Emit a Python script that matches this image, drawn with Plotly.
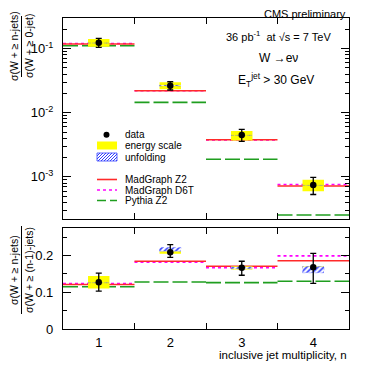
import plotly.graph_objects as go
import numpy as np

FONT = "Liberation Sans, Arial, sans-serif"

# ---------------- data ----------------
n_jets = [1, 2, 3, 4]
tick_labels = ["1", "2", "3", "4"]

# top panel: sigma(W + >= n jets) / sigma(W + >= 0 jets)
top_data = [0.1235, 0.0264, 0.00449, 0.000745]
top_err_hi = [0.1446, 0.0304, 0.00551, 0.00098]
top_err_lo = [0.1047, 0.0226, 0.00357, 0.00053]
top_escale_hi = [0.1408, 0.0298, 0.0052, 0.00090]
top_escale_lo = [0.1070, 0.0233, 0.0037, 0.000595]
top_unf_hi = [0.1250, 0.0268, 0.00455, 0.000755]
top_unf_lo = [0.1220, 0.0260, 0.00443, 0.000735]
top_mg_z2 = [0.118, 0.0220, 0.00379, 0.00072]
top_mg_d6t = [0.120, 0.0220, 0.00375, 0.00076]
top_py_z2 = [0.111, 0.0145, 0.00188, 0.000254]

# bottom panel: sigma(W + >= n jets) / sigma(W + >= (n-1) jets)
bot_data = [0.127, 0.209, 0.1665, 0.168]
bot_err_hi = [0.152, 0.230, 0.1845, 0.206]
bot_err_lo = [0.103, 0.195, 0.1463, 0.124]
bot_escale_hi = [0.144, 0.212, 0.171, 0.171]
bot_escale_lo = [0.110, 0.205, 0.162, 0.165]
bot_unf_hi = [0.128, 0.222, 0.169, 0.170]
bot_unf_lo = [0.126, 0.212, 0.164, 0.153]
bot_mg_z2 = [0.121, 0.1845, 0.171, 0.186]
bot_mg_d6t = [0.124, 0.182, 0.167, 0.199]
bot_py_z2 = [0.115, 0.128, 0.1264, 0.130]

BOX_HALF = 0.15
C_RED = "#ff2a2a"
C_MAG = "#ff00ff"
C_GRN = "#1f9e1f"
C_YEL = "#ffff00"
C_BLUE = "#3340ff"


def step(vals):
    xs, ys = [], []
    for n, v in zip(n_jets, vals):
        xs += [n - 0.5, n + 0.5, None]
        ys += [v, v, None]
    return xs, ys


def boxes(lo, hi):
    xs, ys = [], []
    for n, a, b in zip(n_jets, lo, hi):
        xs += [n - BOX_HALF, n + BOX_HALF, n + BOX_HALF, n - BOX_HALF, n - BOX_HALF, None]
        ys += [a, a, b, b, a, None]
    return xs, ys


fig = go.Figure()


def add_panel(xa, ya, data, ehi, elo, eshi, eslo, uhi, ulo, mgz2, mgd6t, pyz2):
    x, y = step(pyz2)
    fig.add_trace(go.Scatter(x=x, y=y, mode="lines", xaxis=xa, yaxis=ya,
                             line=dict(color=C_GRN, width=1.6, dash="15px,4px"),
                             showlegend=False, hoverinfo="skip"))
    x, y = step(mgd6t)
    fig.add_trace(go.Scatter(x=x, y=y, mode="lines", xaxis=xa, yaxis=ya,
                             line=dict(color=C_MAG, width=1.6, dash="3px,3px"),
                             showlegend=False, hoverinfo="skip"))
    x, y = step(mgz2)
    fig.add_trace(go.Scatter(x=x, y=y, mode="lines", xaxis=xa, yaxis=ya,
                             line=dict(color=C_RED, width=1.6),
                             showlegend=False, hoverinfo="skip"))
    x, y = boxes(eslo, eshi)
    fig.add_trace(go.Scatter(x=x, y=y, mode="lines", fill="toself", xaxis=xa, yaxis=ya,
                             fillcolor=C_YEL, line=dict(width=0),
                             showlegend=False, hoverinfo="skip"))
    x, y = boxes(ulo, uhi)
    fig.add_trace(go.Scatter(x=x, y=y, mode="lines", fill="toself", xaxis=xa, yaxis=ya,
                             fillcolor="rgba(255,255,255,0.6)",
                             fillpattern=dict(shape="/", fgcolor=C_BLUE, bgcolor="white",
                                              size=4, solidity=0.4, fillmode="replace"),
                             line=dict(width=0.6, color="rgba(80,90,255,0.6)", dash="dot"),
                             showlegend=False, hoverinfo="skip"))
    fig.add_trace(go.Scatter(x=n_jets, y=data, mode="markers", xaxis=xa, yaxis=ya,
                             marker=dict(color="black", size=6.5),
                             error_y=dict(type="data", symmetric=False,
                                          array=[h - d for h, d in zip(ehi, data)],
                                          arrayminus=[d - l for l, d in zip(elo, data)],
                                          color="black", thickness=1.3, width=3),
                             showlegend=False, hoverinfo="skip"))


add_panel("x", "y", top_data, top_err_hi, top_err_lo, top_escale_hi, top_escale_lo,
          top_unf_hi, top_unf_lo, top_mg_z2, top_mg_d6t, top_py_z2)
add_panel("x2", "y2", bot_data, bot_err_hi, bot_err_lo, bot_escale_hi, bot_escale_lo,
          bot_unf_hi, bot_unf_lo, bot_mg_z2, bot_mg_d6t, bot_py_z2)

# ---------------- layout ----------------
# the page body has an 8px margin; work in page pixels and compensate
OFF = 8
PAGE_W, PAGE_H = 371, 369
W, H = PAGE_W - OFF, PAGE_H - OFF
PLOT_L, PLOT_R, PLOT_T, PLOT_B = 63, 349, 18, 329   # page pixel positions
ML, MR, MT, MB = PLOT_L - OFF, PAGE_W - PLOT_R, PLOT_T - OFF, PAGE_H - PLOT_B
PW, PH = PLOT_R - PLOT_L, PLOT_B - PLOT_T


def px(xp):
    return (xp - PLOT_L) / PW


def py(yp):
    return (PLOT_B - yp) / PH


top_dom = [py(219), 1.0]
bot_dom = [0.0, py(228)]

axis_common = dict(showline=True, linecolor="black", linewidth=1.2, mirror="ticks",
                   showgrid=False, zeroline=False, tickcolor="black",
                   tickfont=dict(family=FONT, size=13, color="black"))

xticks = dict(tickmode="array", tickvals=n_jets, ticks="inside", ticklen=0,
              minor=dict(tickmode="array", tickvals=[1.5, 2.5, 3.5], ticks="inside",
                         ticklen=6, tickcolor="black", tickwidth=1))

log_minor = [k * 10.0 ** e for e in range(-4, 0) for k in range(2, 10)]

fig.update_layout(
    width=W, height=H,
    margin=dict(l=ML, r=MR, t=MT, b=MB),
    paper_bgcolor="white", plot_bgcolor="white",
    showlegend=False,
    font=dict(family=FONT, color="black"),
    xaxis=dict(domain=[0, 1], range=[0.5, 4.5], anchor="y", showticklabels=False,
               **xticks, **axis_common),
    xaxis2=dict(domain=[0, 1], range=[0.5, 4.5], anchor="y2", matches="x",
                ticktext=tick_labels, ticklabelstandoff=1, **xticks, **axis_common),
    yaxis=dict(domain=top_dom, type="log",
               range=[np.log10(2.2e-4), np.log10(0.3)],
               tickmode="array", tickvals=[1e-3, 1e-2, 1e-1],
               ticktext=["10<sup>-3</sup>", "10<sup>-2</sup>", "10<sup>-1</sup>"],
               ticks="inside", ticklen=8, ticklabelstandoff=6, anchor="x",
               minor=dict(tickmode="array", tickvals=log_minor, ticks="inside",
                          ticklen=4, tickcolor="black"),
               **axis_common),
    yaxis2=dict(domain=bot_dom, range=[0, 0.275], anchor="x2",
                tickmode="array", tickvals=[0, 0.1, 0.2], ticktext=["0", "0.1", "0.2"],
                ticks="inside", ticklen=8, ticklabelstandoff=6,
                minor=dict(dtick=0.05, ticks="inside", ticklen=4, tickcolor="black"),
                **axis_common),
)

ann = []
shapes = []


def text(x, y, s, size=11, xanchor="center", angle=0):
    ann.append(dict(x=px(x), y=py(y), xref="paper", yref="paper", text=s,
                    showarrow=False, xanchor=xanchor, yanchor="middle", textangle=angle,
                    font=dict(family=FONT, size=size, color="black")))


text(348, 14, "CMS preliminary", 11, "right")
text(278, 36, "36 pb<sup>-1</sup>  at \u221as = 7 TeV", 11)
text(278, 58, "W \u2192e\u03bd", 12)
text(276, 80, "E<sub>T</sub><sup>jet</sup> > 30 GeV", 12)
text(349, 355, "inclusive jet multiplicity, n", 11.5, "right")

# fraction-style y titles
YT_NUM_X, YT_DEN_X, YT_BAR_X = 14, 29, 21.5
text(YT_NUM_X, 46, "\u03c3(W + \u2265 n-jets)", 10.5, angle=-90)
text(YT_DEN_X, 46, "\u03c3(W + \u2265 0-jet)", 10.5, angle=-90)
shapes.append(dict(type="line", xref="paper", yref="paper", x0=px(YT_BAR_X),
                   x1=px(YT_BAR_X), y0=py(16), y1=py(77),
                   line=dict(color="black", width=1)))
text(YT_NUM_X, 270, "\u03c3(W + \u2265 n-jets)", 10.5, angle=-90)
text(YT_DEN_X, 270, "\u03c3(W + \u2265 (n-1)-jets)", 10.5, angle=-90)
shapes.append(dict(type="line", xref="paper", yref="paper", x0=px(YT_BAR_X),
                   x1=px(YT_BAR_X), y0=py(226), y1=py(314),
                   line=dict(color="black", width=1)))

# ---------------- legend (drawn manually) ----------------
KX0, KX1, TX = 97, 117, 123
leg_rows = [("data", 134.7), ("energy scale", 145.5), ("unfolding", 157),
            ("MadGraph Z2", 179.5), ("MadGraph D6T", 190), ("Pythia Z2", 200.5)]
for label, yy in leg_rows:
    text(TX, yy, label, 10, "left")

# data marker
shapes.append(dict(type="circle", xref="paper", yref="paper",
                   x0=px(103.5), x1=px(109.5), y0=py(131.7), y1=py(137.7),
                   fillcolor="black", line=dict(width=0)))
# energy scale box
shapes.append(dict(type="rect", xref="paper", yref="paper", x0=px(KX0), x1=px(KX1),
                   y0=py(149.5), y1=py(141.5), fillcolor=C_YEL, line=dict(width=0)))
# unfolding box with hatch
shapes.append(dict(type="rect", xref="paper", yref="paper", x0=px(KX0), x1=px(KX1),
                   y0=py(161), y1=py(153), fillcolor="white",
                   line=dict(width=0.8, color=C_BLUE)))
path = ""
for k in range(-8, 22, 3):
    xa, ya = KX0 + k, 161
    xb, yb = KX0 + k + 8, 153
    if xa < KX0:
        ya -= (KX0 - xa); xa = KX0
    if xb > KX1:
        yb += (xb - KX1); xb = KX1
    if xa >= xb:
        continue
    path += f"M{px(xa)},{py(ya)} L{px(xb)},{py(yb)} "
shapes.append(dict(type="path", xref="paper", yref="paper", path=path,
                   line=dict(color=C_BLUE, width=1)))
# model lines
for yy, col, dash in [(179.5, C_RED, "solid"), (190, C_MAG, "3px,3px"),
                      (200.5, C_GRN, "9px,4px")]:
    shapes.append(dict(type="line", xref="paper", yref="paper", x0=px(KX0), x1=px(KX1),
                       y0=py(yy), y1=py(yy), line=dict(color=col, width=1.6, dash=dash)))

fig.update_layout(annotations=ann, shapes=shapes)

fig.write_html("out.html")
